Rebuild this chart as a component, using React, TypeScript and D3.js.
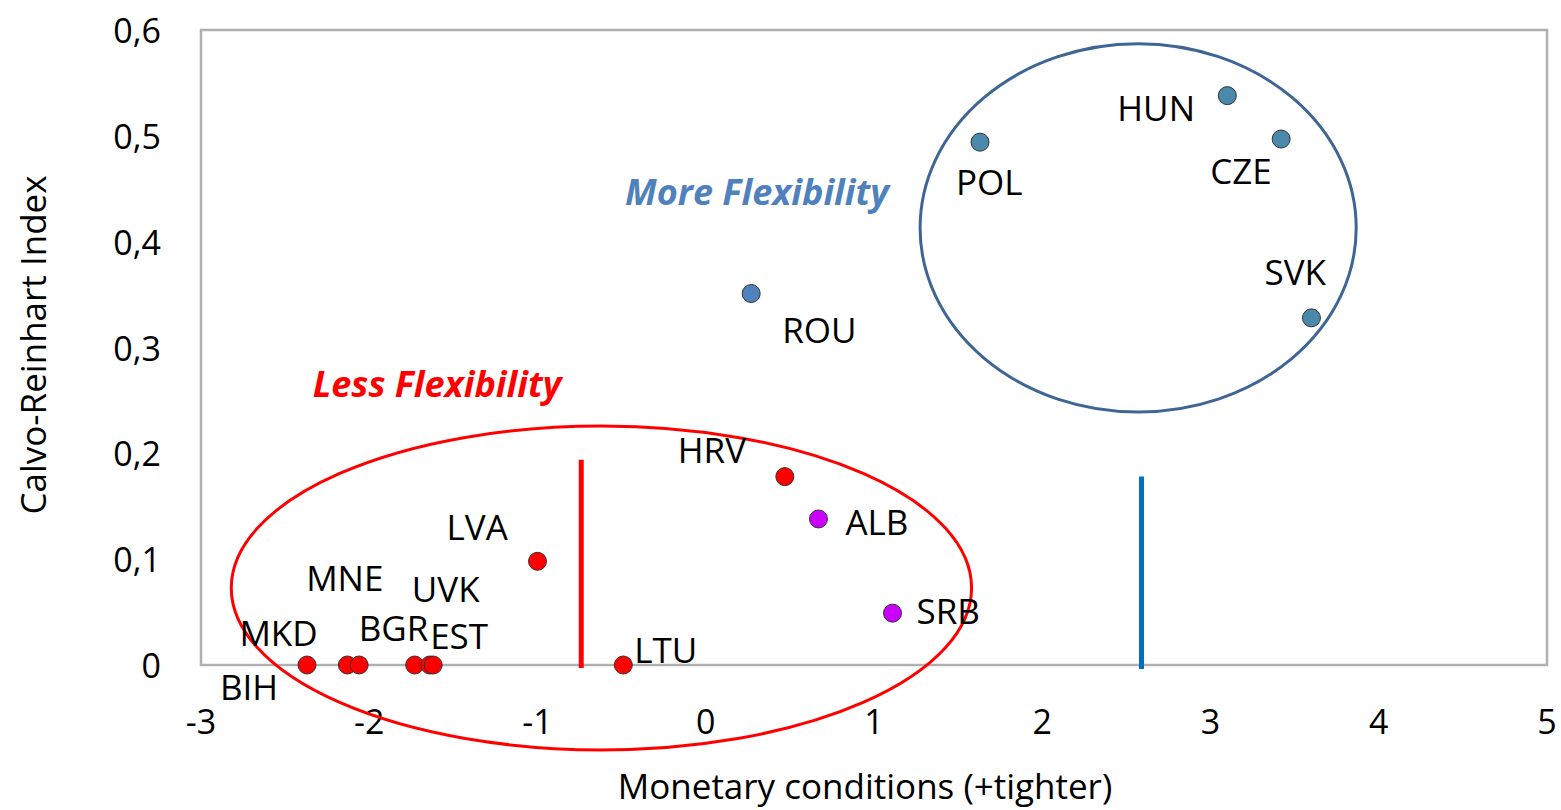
import React from "react";
import * as d3 from "d3";

const countries = ["BIH", "MKD", "MNE", "BGR", "UVK", "EST", "LTU", "LVA", "HRV", "ALB", "SRB", "ROU", "POL", "HUN", "CZE", "SVK"];
const monetary = [-2.37, -2.13, -2.06, -1.73, -1.64, -1.62, -0.49, -1.0, 0.47, 0.67, 1.11, 0.27, 1.63, 3.1, 3.42, 3.6];
const calvoReinhart = [0, 0, 0, 0, 0, 0, 0, 0.098, 0.178, 0.138, 0.049, 0.351, 0.494, 0.538, 0.497, 0.328];
const groups = ["less", "less", "less", "less", "less", "less", "less", "less", "less", "mid", "mid", "rou", "more", "more", "more", "more"];
const xTicks = [-3, -2, -1, 0, 1, 2, 3, 4, 5];
const yTicks = [0, 0.1, 0.2, 0.3, 0.4, 0.5, 0.6];

// label offsets in px (dx from point to left of text, dy to vertical centre)
const labelOffsets: Record<string, [number, number]> = {
  BIH: [-87, 21], MKD: [-108, -33], MNE: [-53, -88], BGR: [-56, -38], UVK: [-18, -77],
  EST: [-3, -30], LTU: [11, -16], LVA: [-91, -35], HRV: [-107, -27], ALB: [27, 3],
  SRB: [24, -3], ROU: [31, 36], POL: [-24, 39], HUN: [-110, 12], CZE: [-71, 31], SVK: [-47, -46],
};

const fills: Record<string, string> = { less: "#FF0000", mid: "#CC00FF", rou: "#4F81BD", more: "#4A89AA" };

export default function App() {
  const W = 1561, H = 810;
  const left = 201, right = 1547, top = 30, bottom = 665;
  const x = d3.scaleLinear().domain([-3, 5]).range([left, right]);
  const y = d3.scaleLinear().domain([0, 0.6]).range([bottom, top]);
  const font = "'Open Sans', 'Noto Sans', sans-serif";

  return (
    <svg width={W} height={H} style={{ position: "absolute", left: 0, top: 0, background: "#fff" }} fontFamily={font}>
      <rect x={left} y={top} width={right - left} height={bottom - top} fill="none" stroke="#B0B0B0" strokeWidth={2.5} />
      {yTicks.map((t) => (
        <text key={"y" + t} x={161} y={y(t)} textAnchor="end" dominantBaseline="central" fontSize={34} fill="#000">
          {d3.format(".1f")(t).replace(".", ",").replace(/^0,0$/, "0")}
        </text>
      ))}
      {xTicks.map((t) => (
        <text key={"x" + t} x={x(t)} y={721} textAnchor="middle" dominantBaseline="central" fontSize={34} fill="#000">
          {String(t)}
        </text>
      ))}
      <text x={865} y={785} textAnchor="middle" dominantBaseline="central" fontSize={35} fill="#000">
        Monetary conditions (+tighter)
      </text>
      <text transform={`translate(32,345) rotate(-90)`} textAnchor="middle" dominantBaseline="central" fontSize={35} fill="#000">
        Calvo-Reinhart Index
      </text>

      {/* threshold lines */}
      <line x1={x(-0.74)} x2={x(-0.74)} y1={y(0.194)} y2={y(0) + 3} stroke="#FF0000" strokeWidth={5} />
      <line x1={x(2.59)} x2={x(2.59)} y1={y(0.178)} y2={y(0) + 4} stroke="#0070C0" strokeWidth={5} />

      {/* ellipses */}
      <ellipse cx={x(-0.62)} cy={y(0.0728)} rx={x(2.2) - x(0)} ry={y(0) - y(0.153)} fill="none" stroke="#FF0000" strokeWidth={3} />
      <ellipse cx={x(2.57)} cy={y(0.413)} rx={x(1.296) - x(0)} ry={y(0) - y(0.174)} fill="none" stroke="#3F6595" strokeWidth={3} />

      <text x={757} y={191} textAnchor="middle" dominantBaseline="central" fontSize={36} fontWeight="bold" fontStyle="italic" fill="#4F81BD">
        More Flexibility
      </text>
      <text x={437} y={383} textAnchor="middle" dominantBaseline="central" fontSize={36} fontWeight="bold" fontStyle="italic" fill="#FF0000">
        Less Flexibility
      </text>

      {countries.map((c, i) => (
        <circle key={"p" + c} cx={x(monetary[i])} cy={y(calvoReinhart[i])} r={9} fill={fills[groups[i]]} stroke="#333" strokeWidth={1} />
      ))}
      {countries.map((c, i) => {
        const [dx, dy] = labelOffsets[c];
        return (
          <text key={"l" + c} x={x(monetary[i]) + dx} y={y(calvoReinhart[i]) + dy} dominantBaseline="central" fontSize={35} fill="#000">
            {c}
          </text>
        );
      })}
    </svg>
  );
}
